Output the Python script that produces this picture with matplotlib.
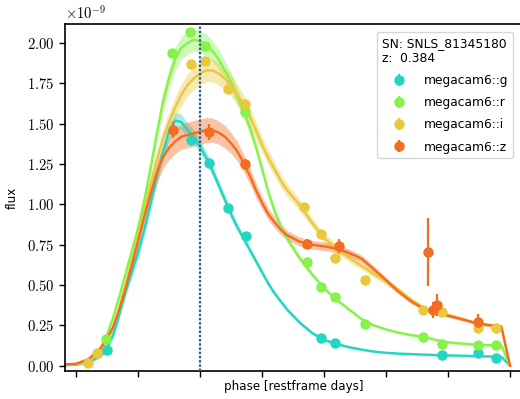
import matplotlib
matplotlib.use("Agg")
import matplotlib.pyplot as plt
from matplotlib.ticker import FuncFormatter, MultipleLocator

plt.rcParams['mathtext.fontset'] = 'cm'
plt.rcParams['font.family'] = ['DejaVu Sans']

# ---- model curves (phase grid shared by all bands), flux in units of 1e-9 ----
model_phase = [-21.8, -20, -18,
               -16, -15, -14, -13, -12, -11, -10, -9, -8, -7, -6, -5, -4, -3, -2, -1,
               0, 1, 2, 3, 4, 5, 6, 7, 8, 9, 10, 11, 12, 13, 14,
               16, 18, 20, 22, 24, 26, 28, 30, 32, 34, 36, 38, 40, 42, 44, 46, 48,
               48.6, 50]
model_g = [0.003, 0.005, 0.02,
           0.06, 0.11, 0.19, 0.32, 0.46, 0.58, 0.70, 0.84, 1.00, 1.17, 1.32, 1.45, 1.52,
           1.51, 1.46, 1.42,
           1.36, 1.29, 1.21, 1.12, 1.03, 0.94, 0.86, 0.79, 0.72, 0.65, 0.58, 0.51, 0.45,
           0.40, 0.35,
           0.27, 0.205, 0.16, 0.135, 0.115, 0.10, 0.088, 0.08, 0.075, 0.072, 0.069, 0.066,
           0.064, 0.062, 0.060, 0.058, 0.056,
           0.055, 0.0]
model_r = [0.005, 0.01, 0.03,
           0.11, 0.19, 0.30, 0.43, 0.57, 0.71, 0.85, 1.02, 1.22, 1.43, 1.63, 1.78, 1.90,
           1.97, 2.00, 2.02,
           2.01, 1.99, 1.95, 1.90, 1.83, 1.76, 1.67, 1.58, 1.48, 1.36, 1.22, 1.08, 0.96,
           0.87, 0.79,
           0.67, 0.57, 0.48, 0.41, 0.35, 0.29, 0.25, 0.225, 0.205, 0.19, 0.18, 0.16,
           0.145, 0.138, 0.132, 0.128, 0.126,
           0.125, 0.0]
model_i = [0.005, 0.008, 0.025,
           0.09, 0.15, 0.24, 0.36, 0.50, 0.65, 0.80, 0.96, 1.12, 1.27, 1.40, 1.51, 1.60,
           1.68, 1.74, 1.78,
           1.81, 1.83, 1.83, 1.81, 1.78, 1.74, 1.68, 1.62, 1.55, 1.46, 1.37, 1.29, 1.22,
           1.15, 1.09,
           1.00, 0.89, 0.79, 0.73, 0.67, 0.62, 0.57, 0.52, 0.47, 0.41, 0.36, 0.335,
           0.315, 0.295, 0.27, 0.255, 0.245,
           0.242, 0.0]
model_z = [0.008, 0.012, 0.04,
           0.11, 0.17, 0.24, 0.35, 0.48, 0.62, 0.77, 0.92, 1.06, 1.19, 1.29, 1.35, 1.39,
           1.42, 1.43, 1.44,
           1.45, 1.46, 1.46, 1.445, 1.42, 1.38, 1.33, 1.26, 1.18, 1.09, 1.01, 0.94, 0.89,
           0.845, 0.81,
           0.77, 0.75, 0.74, 0.725, 0.70, 0.665, 0.60, 0.53, 0.46, 0.40, 0.355, 0.325,
           0.31, 0.29, 0.27, 0.255, 0.245,
           0.242, 0.0]

# model uncertainty half-widths on the same grid
model_g_unc = [0.002, 0.003, 0.005,
               0.01, 0.015, 0.02, 0.025, 0.03, 0.035, 0.04, 0.042, 0.045, 0.048, 0.05,
               0.05, 0.05, 0.048, 0.045, 0.042,
               0.04, 0.038, 0.035, 0.032, 0.03, 0.028, 0.025, 0.022, 0.02, 0.019, 0.018,
               0.016, 0.015, 0.014, 0.013,
               0.012, 0.01, 0.009, 0.008, 0.008, 0.007, 0.007, 0.006, 0.006, 0.006,
               0.006, 0.006, 0.006, 0.006, 0.006, 0.006, 0.006,
               0.006, 0.0]
model_r_unc = [0.002, 0.003, 0.006,
               0.012, 0.016, 0.02, 0.025, 0.03, 0.035, 0.04, 0.045, 0.05, 0.055, 0.06,
               0.065, 0.07, 0.07, 0.07, 0.07,
               0.07, 0.068, 0.065, 0.062, 0.06, 0.055, 0.05, 0.045, 0.04, 0.035, 0.03,
               0.027, 0.025, 0.022, 0.02,
               0.018, 0.015, 0.013, 0.012, 0.011, 0.01, 0.009, 0.008, 0.008, 0.008,
               0.008, 0.008, 0.008, 0.008, 0.008, 0.008, 0.008,
               0.008, 0.0]
model_i_unc = [0.002, 0.003, 0.006,
               0.012, 0.016, 0.02, 0.025, 0.03, 0.035, 0.04, 0.045, 0.05, 0.055, 0.06,
               0.062, 0.065, 0.068, 0.07, 0.07,
               0.07, 0.07, 0.07, 0.07, 0.07, 0.068, 0.065, 0.062, 0.06, 0.055, 0.05,
               0.048, 0.045, 0.042, 0.04,
               0.035, 0.03, 0.03, 0.028, 0.026, 0.024, 0.022, 0.02, 0.018, 0.016,
               0.014, 0.012, 0.011, 0.01, 0.01, 0.01, 0.01,
               0.01, 0.0]
model_z_unc = [0.002, 0.003, 0.006,
               0.012, 0.016, 0.02, 0.027, 0.035, 0.042, 0.05, 0.055, 0.06, 0.065, 0.07,
               0.072, 0.075, 0.078, 0.08, 0.08,
               0.08, 0.078, 0.075, 0.072, 0.07, 0.065, 0.06, 0.055, 0.05, 0.045, 0.04,
               0.037, 0.035, 0.032, 0.03,
               0.028, 0.027, 0.026, 0.025, 0.024, 0.022, 0.02, 0.018, 0.016, 0.014,
               0.012, 0.011, 0.01, 0.01, 0.01, 0.01, 0.01,
               0.01, 0.0]

# ---- observed data points ----
g_phase = [-15.05, -1.45, 1.45, 4.47, 7.37, 19.5, 21.8, 39.0, 44.9, 47.7]
g_flux = [0.097, 1.40, 1.255, 0.976, 0.804, 0.170, 0.143, 0.066, 0.077, 0.046]
g_err = [0.01, 0.02, 0.02, 0.015, 0.015, 0.01, 0.01, 0.01, 0.01, 0.01]

r_phase = [-15.2, -4.45, -1.6, 0.8, 7.26, 17.3, 19.5, 21.7, 26.6, 36.0, 39.0, 44.9, 47.7]
r_flux = [0.165, 1.937, 2.07, 1.98, 1.575, 0.645, 0.49, 0.424, 0.259, 0.18, 0.135, 0.128, 0.128]
r_err = [0.01, 0.02, 0.02, 0.02, 0.015, 0.01, 0.01, 0.01, 0.01, 0.01, 0.01, 0.01, 0.01]

i_phase = [-18.0, -16.6, -1.45, 0.8, 4.47, 7.26, 16.7, 19.5, 21.7, 26.6, 36.0, 39.0, 44.9, 47.7]
i_flux = [0.015, 0.081, 1.87, 1.89, 1.714, 1.622, 0.986, 0.815, 0.666, 0.531, 0.345, 0.335,
          0.236, 0.232]
i_err = [0.01, 0.01, 0.02, 0.02, 0.02, 0.02, 0.015, 0.015, 0.01, 0.01, 0.01, 0.01, 0.01, 0.01]

z_phase = [-4.3, 1.5, 7.26, 17.3, 22.5, 36.8, 37.6, 38.2, 44.8]
z_flux = [1.462, 1.447, 1.249, 0.754, 0.742, 0.707, 0.345, 0.376, 0.273]
z_err = [0.05, 0.05, 0.03, 0.03, 0.045, 0.21, 0.05, 0.07, 0.05]

band_names = ['megacam6::g', 'megacam6::r', 'megacam6::i', 'megacam6::z']
sn_name = 'SNLS_81345180'
redshift = '0.384'
t0_phase = 0.0

colors = ['#22d6c2', '#86f24a', '#e9c83e', '#f26d22']

fig = plt.figure(figsize=(5.2, 3.99), dpi=100)
ax = fig.add_axes([65 / 520, 1 - 371 / 399, (521.6 - 65) / 520, (371 - 24) / 399])

models = [model_g, model_r, model_i, model_z]
uncs = [model_g_unc, model_r_unc, model_i_unc, model_z_unc]
pts = [(g_phase, g_flux, g_err), (r_phase, r_flux, r_err),
       (i_phase, i_flux, i_err), (z_phase, z_flux, z_err)]

for m, u, c in zip(models, uncs, colors):
    lo = [a - b for a, b in zip(m, u)]
    hi = [a + b for a, b in zip(m, u)]
    ax.fill_between(model_phase, lo, hi, color=c, alpha=0.4, lw=0, zorder=1)
    ax.plot(model_phase, m, color=c, lw=1.7, zorder=2, solid_joinstyle='round')

handles = []
for (ph, fl, er), c, name in zip(pts, colors, band_names):
    h = ax.errorbar(ph, fl, yerr=er, fmt='o', color=c, ms=6.5, elinewidth=1.6,
                    capsize=0, zorder=3, label=name)
    handles.append(h)

ax.axvline(t0_phase, color='#21629c', ls=(0, (1.1, 0.8)), lw=1.6, zorder=4)

ax.set_xlim(-21.77, 51.87)
ax.set_ylim(-0.033, 2.118)
ax.xaxis.set_major_locator(MultipleLocator(10))
ax.yaxis.set_major_locator(MultipleLocator(0.25))
ax.xaxis.set_major_formatter(FuncFormatter(lambda v, p: ''))
ax.yaxis.set_major_formatter(FuncFormatter(lambda v, p: r'$\mathrm{%.2f}$' % v))
ax.tick_params(axis='y', labelsize=10.5, length=4, width=1)
ax.tick_params(axis='x', length=4, width=1)
for s in ax.spines.values():
    s.set_linewidth(1.2)

ax.text(0.0, 1.008, r'$\times\mathrm{10}^{-9}$', transform=ax.transAxes,
        fontsize=10.5, ha='left', va='bottom')

ax.set_xlabel('phase [restframe days]', fontsize=8.6)
ax.xaxis.set_label_coords(0.5, -0.026)
ax.set_ylabel('flux', fontsize=8.6, labelpad=6)

leg = ax.legend(handles=handles, loc='upper right',
                bbox_to_anchor=(513 / 520, 1 - 32 / 399),
                bbox_transform=fig.transFigure, borderaxespad=0,
                fontsize=8.8, title_fontsize=8.8,
                title='SN: %s\nz:  %s' % (sn_name, redshift),
                handlelength=2.8, handletextpad=0.6, borderpad=0.4,
                labelspacing=0.75, framealpha=0.8)
leg._legend_box.align = 'left'

fig.savefig('out.png', dpi=100)
